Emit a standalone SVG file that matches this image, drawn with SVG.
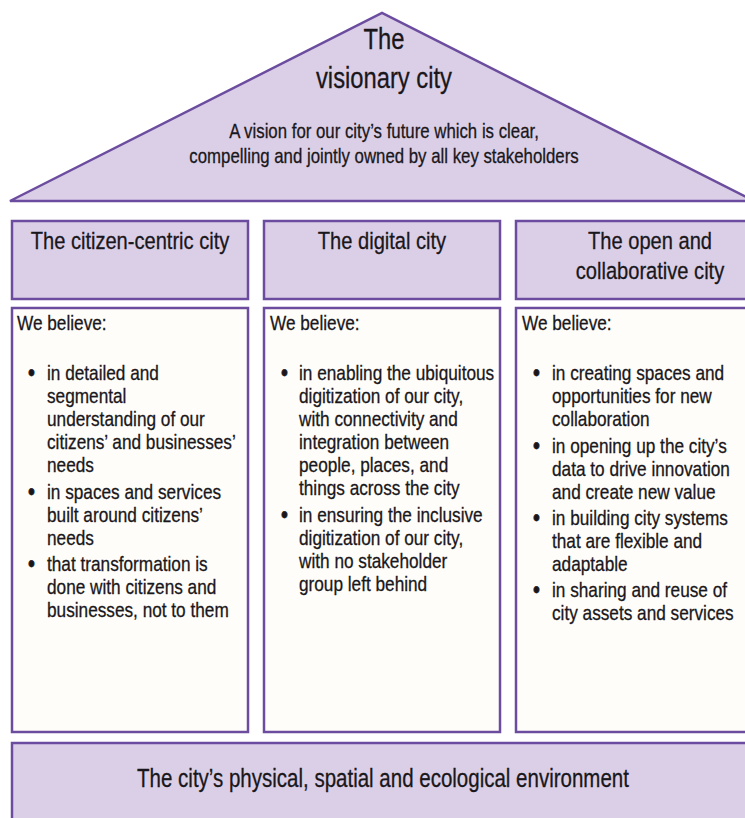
<svg xmlns="http://www.w3.org/2000/svg" width="745" height="818" viewBox="0 0 745 818">
<style>
.fill{fill:#dbcfe7;stroke:#6b4c9e;stroke-width:2.5}
.body{fill:#fffdf9;stroke:#6b4c9e;stroke-width:2.5}
text{font-family:"Liberation Sans",Arial,sans-serif;fill:#19171b;stroke:#19171b;stroke-width:0.3}
.t29{font-size:29px}
.t24{font-size:24.5px}
.t25{font-size:25px}
.t20{font-size:20.5px}
.t21{font-size:21px}
.bul{font-size:24px;stroke-width:0.8}
.mid{text-anchor:middle}
</style>
<rect width="745" height="818" fill="#ffffff"/>
<g id="roof">
<polygon class="fill" points="10,201 382,13 754,201"/>
<g transform="translate(384,0) scale(0.82,1)">
<text class="t29 mid"><tspan x="0" y="49">The</tspan><tspan x="0" y="88">visionary city</tspan></text>
<text class="t20 mid"><tspan x="0" y="138">A vision for our city’s future which is clear,</tspan><tspan x="0" y="163">compelling and jointly owned by all key stakeholders</tspan></text>
</g>
</g>
<g id="header-citizen">
<rect class="fill" x="12" y="221" width="236" height="78"/>
<g transform="translate(130,0) scale(0.82,1)"><text class="t24 mid" x="0" y="249">The citizen-centric city</text></g>
</g>
<g id="header-digital">
<rect class="fill" x="264" y="221" width="236" height="78"/>
<g transform="translate(382,0) scale(0.82,1)"><text class="t24 mid" x="0" y="249">The digital city</text></g>
</g>
<g id="header-open">
<rect class="fill" x="516" y="221" width="240" height="78"/>
<g transform="translate(650,0) scale(0.82,1)"><text class="t24 mid"><tspan x="0" y="249">The open and</tspan><tspan x="0" y="279">collaborative city</tspan></text></g>
</g>
<g id="body-citizen">
<rect class="body" x="12" y="308" width="236" height="424"/>
<g transform="translate(17,0) scale(0.82,1)"><text class="t21" x="0" y="330">We believe:</text></g>
<g transform="translate(28,0) scale(0.82,1)"><text class="bul"><tspan x="0" y="381">•</tspan><tspan x="0" y="500">•</tspan><tspan x="0" y="572">•</tspan></text></g>
<g transform="translate(47,0) scale(0.82,1)"><text class="t21">
<tspan x="0" y="380">in detailed and</tspan>
<tspan x="0" y="403">segmental</tspan>
<tspan x="0" y="426">understanding of our</tspan>
<tspan x="0" y="449">citizens’ and businesses’</tspan>
<tspan x="0" y="472">needs</tspan>
<tspan x="0" y="499">in spaces and services</tspan>
<tspan x="0" y="522">built around citizens’</tspan>
<tspan x="0" y="545">needs</tspan>
<tspan x="0" y="571">that transformation is</tspan>
<tspan x="0" y="594">done with citizens and</tspan>
<tspan x="0" y="617">businesses, not to them</tspan>
</text></g>
</g>
<g id="body-digital">
<rect class="body" x="264" y="308" width="236" height="424"/>
<g transform="translate(270,0) scale(0.82,1)"><text class="t21" x="0" y="330">We believe:</text></g>
<g transform="translate(281,0) scale(0.82,1)"><text class="bul"><tspan x="0" y="381">•</tspan><tspan x="0" y="523">•</tspan></text></g>
<g transform="translate(299,0) scale(0.82,1)"><text class="t21">
<tspan x="0" y="380">in enabling the ubiquitous</tspan>
<tspan x="0" y="403">digitization of our city,</tspan>
<tspan x="0" y="426">with connectivity and</tspan>
<tspan x="0" y="449">integration between</tspan>
<tspan x="0" y="472">people, places, and</tspan>
<tspan x="0" y="495">things across the city</tspan>
<tspan x="0" y="522">in ensuring the inclusive</tspan>
<tspan x="0" y="545">digitization of our city,</tspan>
<tspan x="0" y="568">with no stakeholder</tspan>
<tspan x="0" y="591">group left behind</tspan>
</text></g>
</g>
<g id="body-open">
<rect class="body" x="516" y="308" width="240" height="424"/>
<g transform="translate(522,0) scale(0.82,1)"><text class="t21" x="0" y="330">We believe:</text></g>
<g transform="translate(533,0) scale(0.82,1)"><text class="bul"><tspan x="0" y="381">•</tspan><tspan x="0" y="454">•</tspan><tspan x="0" y="526">•</tspan><tspan x="0" y="598">•</tspan></text></g>
<g transform="translate(552,0) scale(0.82,1)"><text class="t21">
<tspan x="0" y="380">in creating spaces and</tspan>
<tspan x="0" y="403">opportunities for new</tspan>
<tspan x="0" y="426">collaboration</tspan>
<tspan x="0" y="453">in opening up the city’s</tspan>
<tspan x="0" y="476">data to drive innovation</tspan>
<tspan x="0" y="499">and create new value</tspan>
<tspan x="0" y="525">in building city systems</tspan>
<tspan x="0" y="548">that are flexible and</tspan>
<tspan x="0" y="571">adaptable</tspan>
<tspan x="0" y="597">in sharing and reuse of</tspan>
<tspan x="0" y="620">city assets and services</tspan>
</text></g>
</g>
<g id="base">
<rect class="fill" x="12" y="743" width="744" height="90"/>
<g transform="translate(383,0) scale(0.82,1)"><text class="t25 mid" x="0" y="787">The city’s physical, spatial and ecological environment</text></g>
</g>
<g id="connectors"></g>
</svg>
